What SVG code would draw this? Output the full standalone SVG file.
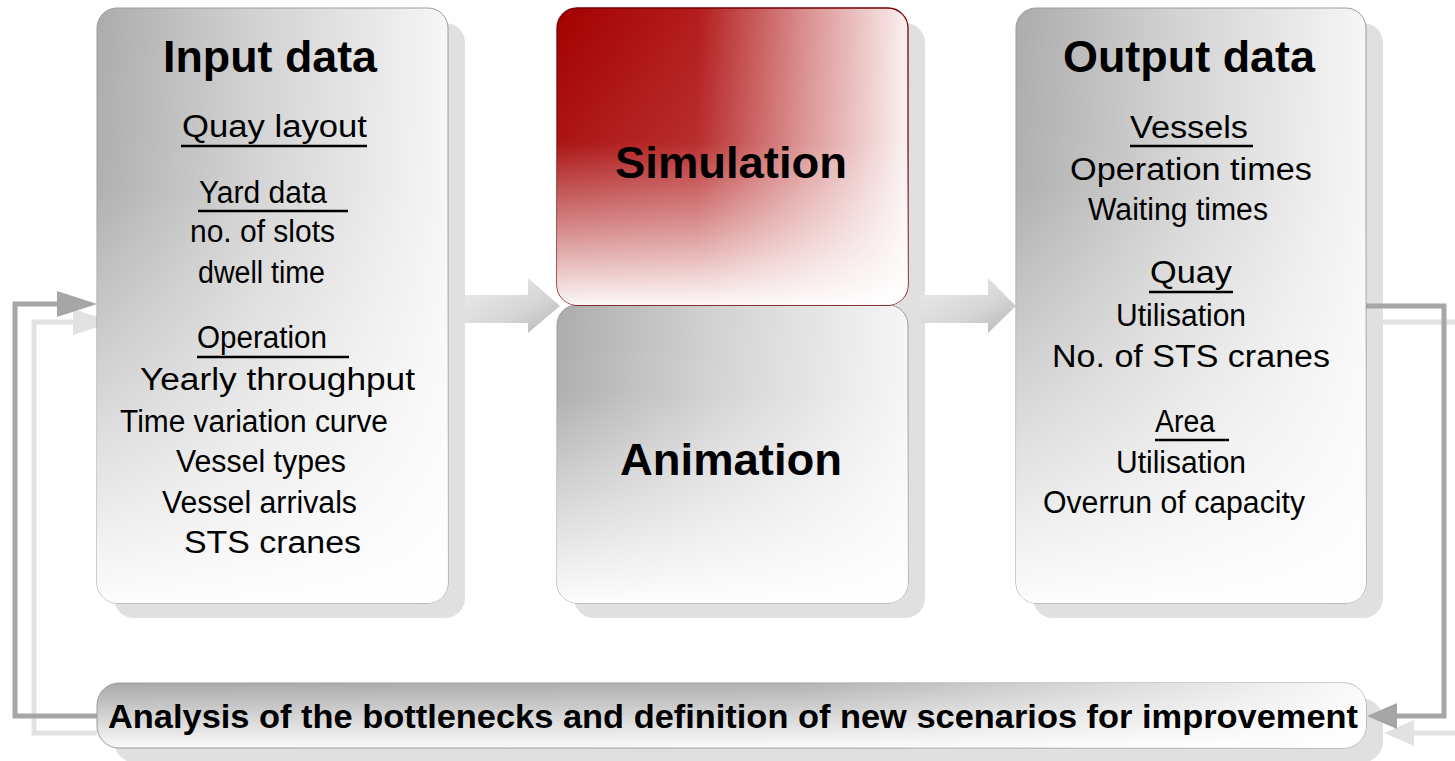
<svg xmlns="http://www.w3.org/2000/svg" width="1455" height="761" viewBox="0 0 1455 761">
<defs>
<linearGradient id="grayH" x1="0" y1="0" x2="1" y2="0">
<stop offset="0" stop-color="#acacac"/>
<stop offset="0.45" stop-color="#d2d2d2"/>
<stop offset="1" stop-color="#f6f6f6"/>
</linearGradient>
<linearGradient id="redH" x1="0" y1="0" x2="1" y2="0">
<stop offset="0" stop-color="#a40000"/>
<stop offset="0.4" stop-color="#b31c1c"/>
<stop offset="0.7" stop-color="#d98c8c"/>
<stop offset="1" stop-color="#fbf1f1"/>
</linearGradient>
<linearGradient id="fadeV" x1="0" y1="0" x2="0" y2="1">
<stop offset="0" stop-color="#ffffff" stop-opacity="0"/>
<stop offset="0.3" stop-color="#ffffff" stop-opacity="0.05"/>
<stop offset="1" stop-color="#ffffff" stop-opacity="0.97"/>
</linearGradient>
<linearGradient id="fadeRed" x1="0" y1="0" x2="0" y2="1">
<stop offset="0" stop-color="#ffffff" stop-opacity="0"/>
<stop offset="0.45" stop-color="#ffffff" stop-opacity="0.08"/>
<stop offset="0.75" stop-color="#ffffff" stop-opacity="0.55"/>
<stop offset="1" stop-color="#ffffff" stop-opacity="0.97"/>
</linearGradient>
<linearGradient id="barV" x1="0" y1="0" x2="0" y2="1">
<stop offset="0" stop-color="#a9a9a9"/>
<stop offset="0.5" stop-color="#d2d2d2"/>
<stop offset="1" stop-color="#fafafa"/>
</linearGradient>
<linearGradient id="barFadeH" x1="0" y1="0" x2="1" y2="0">
<stop offset="0" stop-color="#ffffff" stop-opacity="0"/>
<stop offset="0.55" stop-color="#ffffff" stop-opacity="0.1"/>
<stop offset="1" stop-color="#ffffff" stop-opacity="0.95"/>
</linearGradient>
<linearGradient id="arrowG" x1="0" y1="0" x2="1" y2="1">
<stop offset="0" stop-color="#ececec"/>
<stop offset="0.6" stop-color="#d6d6d6"/>
<stop offset="1" stop-color="#b4b4b4"/>
</linearGradient>
</defs>
<style>
.shadow{fill:#e0e0e0;}
.box{stroke:#9c9c9c;stroke-width:1;}
.red{stroke:#7a0000;stroke-width:1.3;}
.title{font-family:"Liberation Sans",Arial,sans-serif;font-weight:bold;font-size:45px;fill:#000;}
.txt{font-family:"Liberation Sans",Arial,sans-serif;font-size:31px;fill:#000;}
.bar{font-family:"Liberation Sans",Arial,sans-serif;font-weight:bold;font-size:34px;fill:#000;}
.ul{stroke:#000;stroke-width:2.5;}
.dark{fill:none;stroke:#a6a6a6;stroke-width:5;}
.light{fill:none;stroke:#e2e2e2;stroke-width:5;}
</style>
<rect width="1455" height="761" fill="#ffffff"/>

<g id="shadows">
<rect class="shadow" x="114" y="23" width="351" height="595" rx="20"/>
<rect class="shadow" x="574" y="23" width="351" height="595" rx="20"/>
<rect class="shadow" x="1033" y="23" width="350" height="595" rx="20"/>
<rect class="shadow" x="114" y="698" width="1269" height="65" rx="22"/>
</g>

<g id="connectors">
<path class="light" d="M97,733 H34 V322 H76"/>
<polygon points="113,322 73,309 73,335" fill="#e2e2e2"/>
<path class="dark" d="M97,716 H15 V304 H60"/>
<polygon points="97,304 57,291 57,317" fill="#a6a6a6"/>
<path class="light" d="M1383,322 H1462 V733 H1410"/>
<polygon points="1384,733 1414,720 1414,746" fill="#e2e2e2"/>
<path class="dark" d="M1366,306 H1444 V716 H1393"/>
<polygon points="1367,716 1397,703 1397,729" fill="#a6a6a6"/>
<path d="M465,295 H528 V278 L560,306 L528,333 V323 H465 Z" fill="url(#arrowG)"/>
<path d="M920,295 H988 V278 L1016,306 L988,333 V323 H920 Z" fill="url(#arrowG)"/>
</g>

<g id="input">
<rect class="box" x="97" y="8" width="351" height="595" rx="20" fill="url(#grayH)"/>
<rect x="97" y="8" width="351" height="595" rx="20" fill="url(#fadeV)"/>
<text class="title" x="163" y="72" textLength="214" lengthAdjust="spacingAndGlyphs">Input data</text>
<text class="txt" x="182" y="137" textLength="185" lengthAdjust="spacingAndGlyphs">Quay layout</text>
<line class="ul" x1="181" y1="146" x2="367" y2="146"/>
<text class="txt" x="199" y="203" textLength="128" lengthAdjust="spacingAndGlyphs">Yard data</text>
<line class="ul" x1="198" y1="211" x2="348" y2="211"/>
<text class="txt" x="190" y="242" textLength="145" lengthAdjust="spacingAndGlyphs">no. of slots</text>
<text class="txt" x="198" y="283" textLength="127" lengthAdjust="spacingAndGlyphs">dwell time</text>
<text class="txt" x="197" y="348" textLength="130" lengthAdjust="spacingAndGlyphs">Operation</text>
<line class="ul" x1="197" y1="357" x2="349" y2="357"/>
<text class="txt" x="140" y="390" textLength="275" lengthAdjust="spacingAndGlyphs">Yearly throughput</text>
<text class="txt" x="120" y="432" textLength="268" lengthAdjust="spacingAndGlyphs">Time variation curve</text>
<text class="txt" x="176" y="472" textLength="170" lengthAdjust="spacingAndGlyphs">Vessel types</text>
<text class="txt" x="162" y="513" textLength="195" lengthAdjust="spacingAndGlyphs">Vessel arrivals</text>
<text class="txt" x="184" y="553" textLength="177" lengthAdjust="spacingAndGlyphs">STS cranes</text>
</g>

<g id="animation">
<rect class="box" x="557" y="305" width="351" height="298" rx="20" fill="url(#grayH)"/>
<rect x="557" y="305" width="351" height="298" rx="20" fill="url(#fadeV)"/>
<text class="title" x="731" y="475" text-anchor="middle" textLength="222" lengthAdjust="spacingAndGlyphs">Animation</text>
</g>

<g id="simulation">
<rect class="red" x="557" y="8" width="351" height="297" rx="20" fill="url(#redH)"/>
<rect x="557" y="8" width="351" height="297" rx="20" fill="url(#fadeRed)"/>
<text class="title" x="731" y="178" text-anchor="middle" textLength="232" lengthAdjust="spacingAndGlyphs">Simulation</text>
</g>

<g id="output">
<rect class="box" x="1016" y="8" width="350" height="595" rx="20" fill="url(#grayH)"/>
<rect x="1016" y="8" width="350" height="595" rx="20" fill="url(#fadeV)"/>
<text class="title" x="1063" y="72" textLength="252" lengthAdjust="spacingAndGlyphs">Output data</text>
<text class="txt" x="1130" y="138" textLength="118" lengthAdjust="spacingAndGlyphs">Vessels</text>
<line class="ul" x1="1130" y1="146" x2="1253" y2="146"/>
<text class="txt" x="1070" y="180" textLength="242" lengthAdjust="spacingAndGlyphs">Operation times</text>
<text class="txt" x="1088" y="220" textLength="180" lengthAdjust="spacingAndGlyphs">Waiting times</text>
<text class="txt" x="1150" y="283" textLength="82" lengthAdjust="spacingAndGlyphs">Quay</text>
<line class="ul" x1="1149" y1="292" x2="1233" y2="292"/>
<text class="txt" x="1116" y="326" textLength="130" lengthAdjust="spacingAndGlyphs">Utilisation</text>
<text class="txt" x="1052" y="367" textLength="278" lengthAdjust="spacingAndGlyphs">No. of STS cranes</text>
<text class="txt" x="1155" y="432" textLength="60" lengthAdjust="spacingAndGlyphs">Area</text>
<line class="ul" x1="1155" y1="440" x2="1229" y2="440"/>
<text class="txt" x="1116" y="473" textLength="130" lengthAdjust="spacingAndGlyphs">Utilisation</text>
<text class="txt" x="1043" y="513" textLength="262" lengthAdjust="spacingAndGlyphs">Overrun of capacity</text>
</g>

<g id="analysis">
<rect class="box" x="97" y="683" width="1269" height="65" rx="22" fill="url(#barV)"/>
<rect x="97" y="683" width="1269" height="65" rx="22" fill="url(#barFadeH)"/>
<text class="bar" x="108" y="728" textLength="1250" lengthAdjust="spacingAndGlyphs">Analysis of the bottlenecks and definition of new scenarios for improvement</text>
</g>
</svg>
